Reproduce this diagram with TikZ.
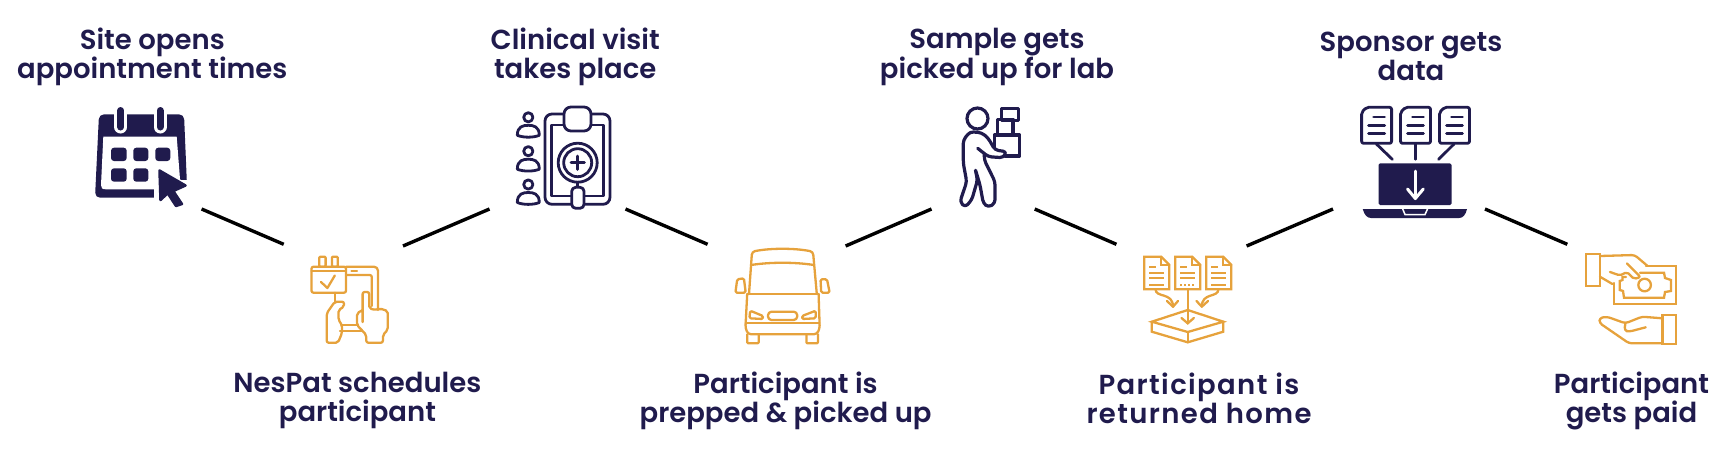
\documentclass[tikz,border=0pt]{standalone}
\usepackage{xcolor}
\usepackage{fontspec}
\usepackage{tikz}
\newfontfamily\labelfont{Poppins SemiBold}
\definecolor{navy}{HTML}{201B4D}
\definecolor{gold}{HTML}{E6A23C}
\tikzset{
  steplabel/.style={text=navy,font=\labelfont\fontsize{27.5}{29}\selectfont,align=center,inner sep=0pt},
  link/.style={draw=black,line width=3.4pt},
  navyicon/.style={draw=navy,line width=2.8pt,line join=round,line cap=round},
  goldicon/.style={draw=gold,line width=2.3pt,line join=round,line cap=round},
  guest/.pic={
    \draw[navyicon] (0,0) circle (4.6);
    \draw[navyicon,fill=white] (-11,18) .. controls (-11,9) and (-5,8) .. (0,8) .. controls (5,8) and (11,9) .. (11,18) .. controls (5,20.5) and (-5,20.5) .. (-11,18) -- cycle;
  },
  goldsheet/.pic={
    \draw[goldicon,line join=miter] (0,0) -- (17,0) -- (25,8) -- (25,32.6) -- (0,32.6) -- cycle;
    \draw[goldicon,line join=miter] (17,0) -- (17,8) -- (25,8);
    \draw[goldicon,line cap=butt] (5,10) -- (12,10);
    \draw[goldicon,line cap=butt] (5,16) -- (20,16);
    \draw[goldicon,line cap=butt] (5,21.5) -- (20,21.5);
  },
  navysheet/.pic={
    \draw[navyicon,rounded corners=2pt] (0,5) -- (5,0) -- (30,0) -- (30,36) -- (0,36) -- cycle;
    \draw[navyicon] (12,9.7) -- (23,9.7);
    \draw[navyicon] (7,18) -- (23,18);
    \draw[navyicon] (7,26.4) -- (23,26.4);
  },
}
\begin{document}
\begin{tikzpicture}[x=1pt,y=-1pt]
\useasboundingbox (0,0) rectangle (1728,459);

\node[steplabel] (S1) at (152.3,56.5) {Site opens\\appointment times};
\node[steplabel] (S2) at (357.4,400.5) {NesPat schedules\\participant};
\node[steplabel] (S3) at (575.2,56.5) {Clinical visit\\takes place};
\node[steplabel] (S4) at (785.6,400.5) {Participant is\\prepped \& picked up};
\node[steplabel] (S5) at (997,56.5) {Sample gets\\picked up for lab};
\node[steplabel] (S6) at (1199,398) {\addfontfeature{LetterSpace=5}Participant is\hspace{8pt}\\\addfontfeature{LetterSpace=5}returned home};
\node[steplabel] (S7) at (1411,56.5) {Sponsor gets\\data};
\node[steplabel] (S8) at (1631.5,400.5) {Participant\\gets paid};

\coordinate (A1) at (201.6,209);
\coordinate (B1) at (283.7,244.3);
\coordinate (A2) at (403,246);
\coordinate (B2) at (489.5,209);
\coordinate (A3) at (625.5,209);
\coordinate (B3) at (707.6,244.3);
\coordinate (A4) at (845.6,246);
\coordinate (B4) at (931.5,209);
\coordinate (A5) at (1034.7,209);
\coordinate (B5) at (1116.4,244.3);
\coordinate (A6) at (1246.6,246);
\coordinate (B6) at (1333,209);
\coordinate (A7) at (1485,209);
\coordinate (B7) at (1567.3,244.3);
\draw[link] (A1) -- (B1);
\draw[link] (A2) -- (B2);
\draw[link] (A3) -- (B3);
\draw[link] (A4) -- (B4);
\draw[link] (A5) -- (B5);
\draw[link] (A6) -- (B6);
\draw[link] (A7) -- (B7);

% calendar
\fill[navy,rounded corners=5pt] (99,114.3) -- (184,114.3) -- (187.5,197.7) -- (95,197.7) -- cycle;
\fill[white] (103.3,136.7) -- (176.7,136.7) -- (181,192) -- (181,189.3) -- (106,189.3) .. controls (102,189.3) and (101,188) .. (101,185) -- cycle;
\fill[white] (154,180) rectangle (190,199);
\draw[white,line width=13pt,line cap=round] (120.7,112) -- (120.7,127);
\draw[white,line width=13pt,line cap=round] (160,112) -- (160,127);
\draw[navy,line width=7pt,line cap=round] (120.7,110.5) -- (120.7,127);
\draw[navy,line width=7pt,line cap=round] (160,110.5) -- (160,127);
\fill[navy,rounded corners=3pt] (111,147.7) rectangle (126.7,161);
\fill[navy,rounded corners=3pt] (133.3,147.7) rectangle (148.3,161);
\fill[navy,rounded corners=3pt] (155.3,147.7) rectangle (170.3,161);
\fill[navy,rounded corners=3pt] (111,168.3) rectangle (126.7,181.7);
\fill[navy,rounded corners=3pt] (133.3,168.3) rectangle (148.3,181.7);
\draw[white,line width=5pt,line join=round] (159.5,170.5) -- (185.5,185.5) -- (173.3,191) -- (182,204) -- (176,206) -- (167.7,193.3) -- (160.5,200) -- cycle;
\draw[navy,fill=navy,line width=2.5pt,line join=round] (159.5,170.5) -- (185.5,185.5) -- (173.3,191) -- (182,204) -- (176,206) -- (167.7,193.3) -- (160.5,200) -- cycle;

% phone with hands
\draw[goldicon,rounded corners=2pt] (311.5,266.7) rectangle (346,292.7);
\draw[goldicon] (311.5,270.7) -- (346,270.7);
\draw[goldicon,rounded corners=1pt] (319.3,256.7) rectangle (325.6,266.7);
\draw[goldicon,rounded corners=1pt] (331.9,256.7) rectangle (337.8,266.7);
\draw[goldicon] (321,282) -- (327.4,288) -- (334.8,275.5);
\draw[goldicon,rounded corners=4pt] (346,266.7) -- (378,266.7) -- (378,310);
\draw[goldicon,rounded corners=2pt] (346,275) -- (371.8,275) -- (371.8,306);
\draw[goldicon] (351.5,271) -- (357,271);
\draw[goldicon] (334.8,292.7) -- (334.8,301.7);
\draw[goldicon] (342,325) -- (358,325);
\draw[goldicon] (340,330.7) -- (362,330.7);
\draw[goldicon,rounded corners=2pt] (334.8,301.7) -- (344,301.7) -- (344,306.7) -- (338.5,310) -- (338.5,320) -- (342,325) -- (342,333) -- (338,342.7) -- (326.7,342.7) -- (326.7,313.3) -- cycle;
\draw[goldicon,rounded corners=2pt] (362.6,322) -- (362.6,292) -- (369.2,292) -- (369.2,308.3) -- (375.5,310) -- (380,308.5) -- (387.7,311) -- (387.7,330) -- (382.9,335) -- (382.9,342.7) -- (366.3,342.7) -- (366.3,335) -- (357,325) -- (357,313.3) -- (362.6,310);

% clipboard
\pic at (528.3,117.3) {guest};
\pic at (528.3,151.2) {guest};
\pic at (528.3,184.5) {guest};
\draw[navyicon,rounded corners=7pt] (545,114) rectangle (610,204.3);
\draw[navyicon] (551.7,125) rectangle (603.3,196);
\draw[navyicon,fill=white,rounded corners=7pt] (564,107) rectangle (591,131);
\draw[navyicon,fill=white] (577.7,162.7) circle (19.5);
\draw[navyicon] (577.7,162.7) circle (14);
\draw[navyicon,line width=3pt] (571,162.7) -- (584.4,162.7);
\draw[navyicon,line width=3pt] (577.7,156) -- (577.7,169.4);
\draw[navyicon] (577.7,182.2) -- (577.7,187);
\draw[navyicon,fill=white,rounded corners=4pt] (571.7,187.3) rectangle (584,208.3);

% van
\draw[goldicon,rounded corners=3pt] (749,294) -- (752,251.7) .. controls (770,248) and (795,248) .. (813,251.7) -- (816.8,294);
\draw[goldicon] (751,265) .. controls (770,262) and (795,262) .. (814,265);
\draw[goldicon] (747.2,294) -- (818.6,294);
\draw[goldicon,rounded corners=3pt] (747.2,294) -- (745.4,328.3) -- (748.3,334.3) -- (816.8,334.3) -- (819.7,328.3) -- (818.6,294);
\draw[goldicon] (745.6,323.3) -- (819.5,323.3);
\draw[goldicon,rounded corners=1pt] (747.2,334.3) -- (747.2,343.3) -- (758.7,343.3) -- (758.7,334.3);
\draw[goldicon,rounded corners=1pt] (806.4,334.3) -- (806.4,343.3) -- (817.9,343.3) -- (817.9,334.3);
\draw[goldicon,rounded corners=1.5pt] (737.2,279.3) -- (743.9,278.3) -- (745.7,292.7) -- (735.4,292.7) -- cycle;
\draw[goldicon,rounded corners=1.5pt] (820.5,279.3) -- (827,279.3) -- (829.7,292.7) -- (821.2,292.7) -- cycle;
\draw[goldicon,rounded corners=1.5pt] (750.2,310.7) -- (763.1,316) -- (763.1,319) -- (749.4,318.3) -- cycle;
\draw[goldicon,rounded corners=1.5pt] (815.7,310.7) -- (802,316) -- (802,319) -- (815.7,318.3) -- cycle;
\draw[goldicon,rounded corners=3.5pt] (768,311.7) rectangle (797.2,320);

% person carrying boxes
\draw[navyicon,line width=3.2pt] (977.5,118.5) circle (10.5);
\draw[navyicon,line width=3.2pt] (1001.8,108.3) rectangle (1018.4,120.7);
\draw[navyicon,line width=3.2pt] (997.3,135) -- (997.3,119.3) -- (1012.9,119.3) -- (1012.9,135);
\draw[navyicon,line width=3.2pt] (994.3,148) -- (994.3,135) -- (1019.5,135) -- (1019.5,156) -- (1005,156);
\draw[navyicon,line width=3.2pt,rounded corners=3.5pt] (977.7,148.3) -- (988.3,156.7) -- (1003.3,157.7) -- (1006.7,151.7) -- (995,150) -- (988.3,138.3) -- (981.7,132.7) -- (970,131.7) -- (963.3,140) -- (963.3,163.3) -- (966.7,181.7) -- (960,201.7) -- (965,207.3) -- (971.7,200) -- (977.5,180) -- (975,168.3) -- (980,185) -- (983.3,203.3) -- (988.3,207.3) -- (995,203.3) -- (995,181.7) -- (984.3,160) -- (984.3,154);

% sheets into a box
\pic at (1144.2,256.7) {goldsheet};
\pic at (1175.2,256.7) {goldsheet};
\pic at (1206.2,256.7) {goldsheet};
\draw[goldicon,line cap=butt] (1149.2,285) -- (1164.2,285);
\draw[goldicon,line cap=butt,dash pattern=on 2pt off 2pt] (1180.2,285) -- (1195.2,285);
\draw[goldicon,line cap=butt] (1211.2,285) -- (1226.2,285);
\draw[goldicon] (1187.7,289.3) -- (1187.7,323.3);
\draw[goldicon,line join=miter] (1181.5,318) -- (1187.7,323.3) -- (1193.9,318);
\draw[goldicon] (1155.5,289.3) .. controls (1155.5,298) and (1173,292) .. (1173,306.7);
\draw[goldicon] (1167,301) -- (1173,306.7) -- (1178,301);
\draw[goldicon] (1218.4,289.3) .. controls (1218.4,298) and (1201.8,292) .. (1201.8,306.7);
\draw[goldicon] (1196.5,301) -- (1201.8,306.7) -- (1208,301);
\draw[goldicon,line join=miter] (1151.8,321.7) -- (1187.7,310) -- (1223.3,321.7) -- (1187.7,332) -- cycle;
\draw[goldicon,line join=miter] (1151.8,321.7) -- (1151.8,331.7) -- (1187.7,342.3) -- (1223.3,331.7) -- (1223.3,321.7);
\draw[goldicon] (1187.7,332) -- (1187.7,342.3);

% laptop with sheets
\pic at (1361.6,107.3) {navysheet};
\pic at (1400.5,107.3) {navysheet};
\pic at (1439.5,107.3) {navysheet};
\draw[navyicon] (1376.4,144) -- (1392.3,159.3);
\draw[navyicon] (1415.3,144) -- (1415.3,159.3);
\draw[navyicon] (1454,144) -- (1438.6,159.3);
\fill[navy,rounded corners=1.5pt] (1378.6,163.3) rectangle (1451.5,205);
\draw[white,line width=3pt,line cap=round,line join=round] (1415.3,171) -- (1415.3,198.5);
\draw[white,line width=3pt,line cap=round,line join=round] (1407.5,189) -- (1415.3,198.5) -- (1423.3,189);
\fill[navy] (1362.7,209) -- (1467,209) .. controls (1465.5,215) and (1463,218) .. (1459,218) -- (1371,218) .. controls (1367,218) and (1364.5,215) .. (1362.7,209) -- cycle;
\draw[white,line width=1.5pt] (1402.7,209) -- (1405,214.5) -- (1425,214.5) -- (1427.5,209);

% money between two hands
\draw[goldicon,line join=miter] (1585.8,254.3) rectangle (1599.9,285.7);
\draw[goldicon,rounded corners=3pt] (1599.9,256) -- (1634.6,255) -- (1647.6,266);
\draw[goldicon] (1599.9,276.7) -- (1612.4,284);
\draw[goldicon,line join=miter] (1613.9,283) -- (1613.9,304) -- (1676,304) -- (1676,266) -- (1646,266);
\draw[goldicon,line join=miter] (1626,277) -- (1622.5,277) -- (1622.5,280) -- (1619.8,281) -- (1619.8,290) -- (1623,291) -- (1624,297.7) -- (1664,297.7) -- (1665,292) -- (1670.9,291) -- (1670.9,280) -- (1665,278) -- (1664,272.7) -- (1640,272.7);
\draw[goldicon] (1644.6,285) circle (6.3);
\draw[goldicon,rounded corners=2pt] (1627,263.5) -- (1640.5,277) -- (1634,279) -- (1627,272) -- (1620,275.5) -- (1610,272);
\draw[goldicon,line join=miter] (1662.4,315) rectangle (1676,344);
\draw[goldicon,rounded corners=3pt] (1662.4,318.3) -- (1642,316.7) -- (1625.4,323.3) -- (1606.9,316.7) -- (1599.5,318) -- (1599.5,323) -- (1629,343.3) -- (1662.4,343.3);
\draw[goldicon,rounded corners=3pt] (1625.4,323.3) -- (1624.3,330.5) -- (1629,331.7) -- (1645.7,327.3);
\end{tikzpicture}
\end{document}
